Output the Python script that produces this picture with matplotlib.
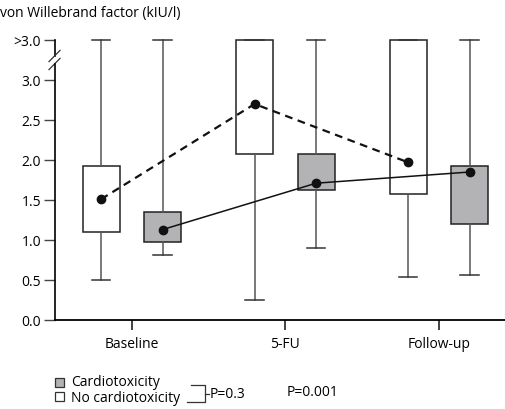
import matplotlib
matplotlib.use("Agg")
import matplotlib.pyplot as plt
from matplotlib.patches import Rectangle
from matplotlib.lines import Line2D

plt.rcParams['font.family'] = ['Open Sans', 'DejaVu Sans']

# von Willebrand factor (kIU/l); 3.5 stands for the ">3.0" level
timepoints = ["Baseline", "5-FU", "Follow-up"]

no_cardio_q1 = [1.10, 2.08, 1.58]
no_cardio_q3 = [1.93, 3.5, 3.5]
no_cardio_lo = [0.50, 0.25, 0.54]
no_cardio_hi = [3.5, 3.5, 3.5]
no_cardio_med = [1.51, 2.70, 1.97]

cardio_q1 = [0.97, 1.625, 1.20]
cardio_q3 = [1.35, 2.075, 1.92]
cardio_lo = [0.81, 0.90, 0.56]
cardio_hi = [3.5, 3.5, 3.5]
cardio_med = [1.13, 1.71, 1.85]

ytick_vals = [0.0, 0.5, 1.0, 1.5, 2.0, 2.5, 3.0, 3.5]
ytick_labels = ["0.0", "0.5", "1.0", "1.5", "2.0", "2.5", "3.0", ">3.0"]

W, H = 505, 409
FS = 10
fig = plt.figure(figsize=(W / 100, H / 100), dpi=100)
ax = fig.add_axes([55 / W, 89 / H, 450 / W, 284 / H])

gray = '#b3b3b6'
offset = 0.2
pos = list(range(len(timepoints)))


def stats(q1, q3, lo, hi, med):
    return [dict(q1=a, q3=b, whislo=c, whishi=d, med=e, fliers=[])
            for a, b, c, d, e in zip(q1, q3, lo, hi, med)]


common = dict(widths=0.24, patch_artist=True, showfliers=False,
              medianprops=dict(linewidth=0),
              whiskerprops=dict(color='#555555', linewidth=1.1),
              capprops=dict(color='#333333', linewidth=1.1),
              manage_ticks=False)

b1 = ax.bxp(stats(no_cardio_q1, no_cardio_q3, no_cardio_lo, no_cardio_hi, no_cardio_med),
            positions=[p - offset for p in pos],
            boxprops=dict(facecolor='white', edgecolor='#222222', linewidth=1.1),
            **common)
b2 = ax.bxp(stats(cardio_q1, cardio_q3, cardio_lo, cardio_hi, cardio_med),
            positions=[p + offset for p in pos],
            boxprops=dict(facecolor=gray, edgecolor='#222222', linewidth=1.1),
            **common)
for group in (b1, b2):
    for key in ('boxes', 'whiskers', 'caps'):
        for art in group[key]:
            art.set_clip_on(False)

# median trend lines
ax.plot([p - offset for p in pos], no_cardio_med, color='#111111', lw=1.6,
        ls=(0, (3.5, 2.5)), marker='o', ms=6, zorder=5, clip_on=False)
ax.plot([p + offset for p in pos], cardio_med, color='#111111', lw=1.1,
        marker='o', ms=6, zorder=5, clip_on=False)

ax.set_xlim(-0.5, 2.43)
ax.set_ylim(0, 3.55)
ax.set_xticks(pos)
ax.set_xticklabels(timepoints, fontsize=FS)
ax.set_yticks(ytick_vals)
ax.set_yticklabels(ytick_labels, fontsize=FS)
ax.tick_params(axis='y', length=8, width=1, color='#444444', pad=2)
ax.tick_params(axis='x', length=7, width=1.2, color='#222222', pad=5)

for s in ('top', 'right'):
    ax.spines[s].set_visible(False)
ax.spines['bottom'].set_linewidth(1.3)
ax.spines['left'].set_linewidth(1.2)
ax.spines['left'].set_bounds(0, 3.2)

# upper part of the broken y axis and the break marks
trans = ax.get_yaxis_transform()
ax.add_line(Line2D([0, 0], [3.3, 3.5], transform=trans, color='black',
                   lw=1.2, clip_on=False))
px = 1 / 450
for yb in (3.2, 3.3):
    ax.add_line(Line2D([-6 * px, 5 * px], [yb - 0.07, yb + 0.07], transform=trans,
                       color='#333333', lw=0.9, clip_on=False))

fig.text(0.0, 1 - 13 / H, "von Willebrand factor (kIU/l)", fontsize=FS,
         va='center', ha='left')

# legend with bracket
def fx(x):
    return x / W


def fy(y):
    return 1 - y / H


fig.add_artist(Rectangle((fx(55), fy(386.5)), 9 / W, 9 / H, facecolor=gray,
                         edgecolor='#333333', lw=0.9, transform=fig.transFigure))
fig.add_artist(Rectangle((fx(55), fy(400.5)), 9 / W, 9 / H, facecolor='white',
                         edgecolor='#333333', lw=0.9, transform=fig.transFigure))
fig.text(fx(71), fy(382), "Cardiotoxicity", fontsize=FS, va='center')
fig.text(fx(71), fy(398), "No cardiotoxicity", fontsize=FS, va='center')
fig.add_artist(Line2D([fx(191), fx(205), fx(205), fx(187)],
                      [fy(385), fy(385), fy(402), fy(402)],
                      transform=fig.transFigure, color='#333333', lw=0.9))
fig.add_artist(Line2D([fx(205), fx(209)], [fy(393.5), fy(393.5)],
                      transform=fig.transFigure, color='#333333', lw=0.9))
fig.text(fx(210), fy(394), "P=0.3", fontsize=FS, va='center')
fig.text(fx(287), fy(393), "P=0.001", fontsize=FS, va='center')

fig.savefig("out.png", dpi=100)
